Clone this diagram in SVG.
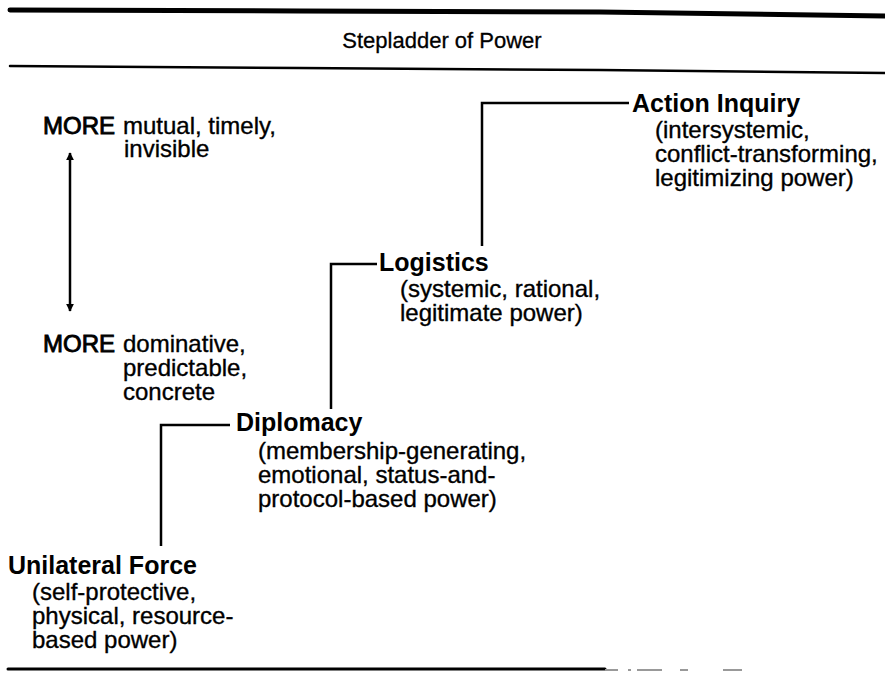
<svg xmlns="http://www.w3.org/2000/svg" width="885" height="673" viewBox="0 0 885 673">
<defs>
<style>
text{font-family:"Liberation Sans",Arial,sans-serif;fill:#000}
.t{font-size:22px;stroke:#000;stroke-width:0.3}
.h{font-size:25px;font-weight:bold}
.b{font-size:24px;stroke:#000;stroke-width:0.35}
.m{stroke-width:0.9}
.rule{stroke:#000;fill:none;stroke-linecap:round}
.conn{stroke:#000;stroke-width:2.5;fill:none}
</style>
<marker id="ah" viewBox="0 0 10 10" refX="9" refY="5" markerWidth="8" markerHeight="8" markerUnits="userSpaceOnUse" orient="auto-start-reverse">
<path d="M0,0 L10,5 L0,10 z" fill="#000"/>
</marker>
</defs>
<rect width="885" height="673" fill="#fff"/>
<g id="rules">
<path class="rule" d="M10 10 L300 11 L600 12 L885 16" stroke-width="5"/>
<path class="rule" d="M10 66 L300 68 L600 70 L885 73" stroke-width="2.5"/>
<path class="rule" d="M8 669 L605 669" stroke-width="3"/>
<path d="M605 670 H618 M628 670 H631 M637 670 H662 M680 670 H688 M723 670 H742" stroke="#999" stroke-width="2" fill="none"/>
</g>
<g id="title"><text class="t" x="442" y="48" text-anchor="middle">Stepladder of Power</text></g>
<g id="connectors">
<path class="conn" d="M629 103 H482 V246"/>
<path class="conn" d="M377 264 H331 V409"/>
<path class="conn" d="M230 425 H161 V546"/>
<line x1="70" y1="311" x2="70" y2="153" stroke="#000" stroke-width="2.5" marker-start="url(#ah)" marker-end="url(#ah)"/>
</g>
<g id="scale-top">
<text class="b"><tspan class="m" x="43" y="134">MORE</tspan><tspan x="123" y="134">mutual, timely,</tspan><tspan x="124" y="157">invisible</tspan></text>
</g>
<g id="scale-bottom">
<text class="b"><tspan class="m" x="43" y="352">MORE</tspan><tspan x="123" y="352">dominative,</tspan><tspan x="123" y="376">predictable,</tspan><tspan x="123" y="400">concrete</tspan></text>
</g>
<g id="action-inquiry">
<text class="h" x="632" y="112">Action Inquiry</text>
<text class="b"><tspan x="655" y="138">(intersystemic,</tspan><tspan x="655" y="162">conflict-transforming,</tspan><tspan x="655" y="186">legitimizing power)</tspan></text>
</g>
<g id="logistics">
<text class="h" x="379" y="271">Logistics</text>
<text class="b"><tspan x="400" y="297">(systemic, rational,</tspan><tspan x="400" y="321">legitimate power)</tspan></text>
</g>
<g id="diplomacy">
<text class="h" x="236" y="431">Diplomacy</text>
<text class="b"><tspan x="258" y="459">(membership-generating,</tspan><tspan x="258" y="483">emotional, status-and-</tspan><tspan x="258" y="507">protocol-based power)</tspan></text>
</g>
<g id="unilateral-force">
<text class="h" x="8" y="574">Unilateral Force</text>
<text class="b"><tspan x="32" y="600">(self-protective,</tspan><tspan x="32" y="624">physical, resource-</tspan><tspan x="32" y="648">based power)</tspan></text>
</g>
</svg>
